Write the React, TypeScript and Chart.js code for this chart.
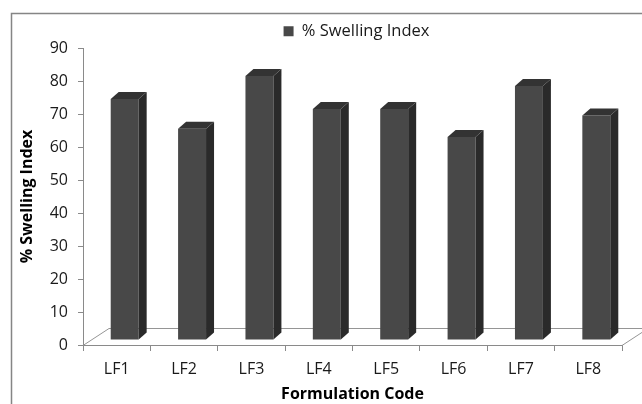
import React, { useEffect, useRef } from 'react';
import { Chart, registerables } from 'chart.js';

Chart.register(...registerables);

const categories = ['LF1', 'LF2', 'LF3', 'LF4', 'LF5', 'LF6', 'LF7', 'LF8'];
const swellingIndex = [73, 64, 80, 70, 70, 61.5, 77, 68];
const seriesLabel = '% Swelling Index';
const xTitle = 'Formulation Code';
const yTitle = '% Swelling Index';
const yMin = 0;
const yMax = 90;
const yStep = 10;

const FONT = "'Open Sans', sans-serif";
const FRONT = '#484848';
const SIDE = '#2a2a2a';
const TOP = '#333333';
const AXIS = '#8a8a8a';
const TEXT = '#1a1a1a';

// 3D look (pixels)
const FLOOR_DX = 26;
const FLOOR_DY = 17;
const BAR_SHIFT_X = 8;
const BAR_SHIFT_Y = 5;
const BAR_DX = 8;
const BAR_DY = 7;
const LEGEND_CENTER = 361;

const threeD = {
  id: 'threeD',
  afterInit(chart: any) {
    const lg = chart.legend;
    if (lg && !lg.__patched) {
      const fit = lg.fit.bind(lg);
      lg.fit = () => {
        fit();
        lg.height = 34;
      };
      lg.__patched = true;
    }
  },
  afterLayout(chart: any) {
    const lg = chart.legend;
    if (!lg) return;
    const pad = lg.options.labels.padding;
    const cur = (lg.left + pad + lg.right) / 2;
    const shift = LEGEND_CENTER - cur;
    lg.left += shift;
    lg.right += shift;
  },
  beforeDraw(chart: any) {
    const ctx = chart.ctx;
    ctx.save();
    ctx.strokeStyle = '#858585';
    ctx.lineWidth = 1.5;
    ctx.strokeRect(11.5, 13.5, 800, 600);
    ctx.restore();
  },
  beforeDatasetsDraw(chart: any) {
    const { ctx, chartArea } = chart;
    const l = chartArea.left;
    const r = chartArea.right;
    const b = chartArea.bottom + 0.5;
    ctx.save();
    ctx.strokeStyle = '#959595';
    ctx.lineWidth = 1;
    ctx.beginPath();
    ctx.moveTo(l, b);
    ctx.lineTo(l + FLOOR_DX, b - FLOOR_DY);
    ctx.lineTo(r + FLOOR_DX, b - FLOOR_DY);
    ctx.lineTo(r, b);
    ctx.stroke();
    ctx.restore();
  },
  beforeDatasetDraw(chart: any) {
    chart.ctx.save();
    chart.ctx.translate(BAR_SHIFT_X, -BAR_SHIFT_Y);
  },
  afterDatasetDraw(chart: any, args: any) {
    const ctx = chart.ctx;
    args.meta.data.forEach((el: any) => {
      const { x, y, base, width } = el.getProps(['x', 'y', 'base', 'width'], true);
      const L = x - width / 2;
      const R = x + width / 2;
      ctx.fillStyle = SIDE;
      ctx.beginPath();
      ctx.moveTo(R, y);
      ctx.lineTo(R + BAR_DX, y - BAR_DY);
      ctx.lineTo(R + BAR_DX, base - BAR_DY);
      ctx.lineTo(R, base);
      ctx.closePath();
      ctx.fill();
      ctx.fillStyle = TOP;
      ctx.beginPath();
      ctx.moveTo(L, y);
      ctx.lineTo(R, y);
      ctx.lineTo(R + BAR_DX, y - BAR_DY);
      ctx.lineTo(L + BAR_DX, y - BAR_DY);
      ctx.closePath();
      ctx.fill();
    });
    ctx.restore();
  },
};

export default function App() {
  const ref = useRef<HTMLCanvasElement | null>(null);

  useEffect(() => {
    if (!ref.current) return;
    const chart = new Chart(ref.current, {
      type: 'bar',
      data: {
        labels: categories,
        datasets: [
          {
            label: seriesLabel,
            data: swellingIndex,
            backgroundColor: FRONT,
            borderWidth: 0,
            barPercentage: 0.415,
            categoryPercentage: 1,
          },
        ],
      },
      options: {
        responsive: false,
        animation: false,
        devicePixelRatio: 1,
        layout: { padding: { left: 15, right: 20, top: 14, bottom: 0 } },
        plugins: {
          legend: {
            display: true,
            position: 'top',
            labels: {
              boxWidth: 10,
              boxHeight: 10,
              padding: 9,
              color: TEXT,
              font: { family: FONT, size: 16.5 },
            },
          },
          tooltip: { enabled: false },
        },
        scales: {
          x: {
            afterFit: (s: any) => {
              s.height = 59;
            },
            grid: {
              display: true,
              drawOnChartArea: false,
              drawTicks: true,
              tickLength: 6,
              color: AXIS,
              offset: true,
            },
            border: { display: true, color: AXIS, width: 1 },
            ticks: {
              color: TEXT,
              padding: 9,
              font: { family: FONT, size: 16 },
            },
            title: {
              display: true,
              text: xTitle,
              color: '#000',
              padding: { top: 0, bottom: 0 },
              font: { family: FONT, size: 16, weight: 'bold' },
            },
          },
          y: {
            min: yMin,
            max: yMax,
            afterFit: (s: any) => {
              s.width = 68;
            },
            grid: {
              display: true,
              drawOnChartArea: false,
              drawTicks: true,
              tickLength: 5,
              color: AXIS,
            },
            border: { display: true, color: AXIS, width: 1 },
            ticks: {
              stepSize: yStep,
              color: TEXT,
              padding: 10,
              font: { family: FONT, size: 16 },
            },
            title: {
              display: true,
              text: yTitle,
              color: '#000',
              padding: { top: 3, bottom: 4 },
              font: { family: FONT, size: 16, weight: 'bold' },
            },
          },
        },
      },
      plugins: [threeD],
    } as any);
    return () => chart.destroy();
  }, []);

  return (
    <div style={{ position: 'fixed', left: 0, top: 0, width: 642, height: 404, background: '#fff' }}>
      <canvas ref={ref} width={642} height={404} />
    </div>
  );
}
